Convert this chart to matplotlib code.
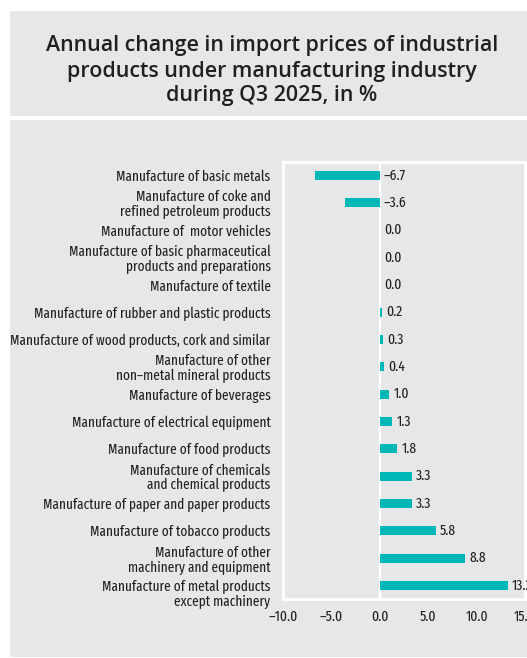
import matplotlib
matplotlib.use("Agg")
import matplotlib.pyplot as plt
from matplotlib.patches import Rectangle
from matplotlib.transforms import ScaledTranslation

categories = [
    "Manufacture of basic metals",
    "Manufacture of coke and\nrefined petroleum products",
    "Manufacture of  motor vehicles",
    "Manufacture of basic pharmaceutical\nproducts and preparations",
    "Manufacture of textile",
    "Manufacture of rubber and plastic products",
    "Manufacture of wood products, cork and similar",
    "Manufacture of other\nnon\u2013metal mineral products",
    "Manufacture of beverages",
    "Manufacture of electrical equipment",
    "Manufacture of food products",
    "Manufacture of chemicals\nand chemical products",
    "Manufacture of paper and paper products",
    "Manufacture of tobacco products",
    "Manufacture of other\nmachinery and equipment",
    "Manufacture of metal products\nexcept machinery",
]
values = [-6.7, -3.6, 0.0, 0.0, 0.0, 0.2, 0.3, 0.4, 1.0, 1.3, 1.8, 3.3, 3.3, 5.8, 8.8, 13.2]
x_ticks = [-10, -5, 0, 5, 10, 15]

title_lines = ["Annual change in import prices of industrial",
               "products under manufacturing industry",
               "during Q3 2025, in %"]

TITLE_FONT = "Open Sans"
BODY_FONT = "Fira Sans Extra Condensed"

PANEL = "#e6e7e8"
BAR = "#00b7b7"
TEXT = "#231f20"

W, H = 527, 658
fig = plt.figure(figsize=(W / 100, H / 100), dpi=100, facecolor="white")
renderer = fig.canvas.get_renderer()


def fit_size(text, target_px, start, **kw):
    """Font size at which `text` is `target_px` pixels wide."""
    t = fig.text(0, 0, text, fontsize=start, **kw)
    w = t.get_window_extent(renderer).width
    t.remove()
    return start * target_px / w


# grey panels behind the title and the chart
fig.patches.append(Rectangle((10 / W, 1 - 116 / H), 517 / W, 105 / H,
                             transform=fig.transFigure, facecolor=PANEL,
                             edgecolor="none", zorder=0))
fig.patches.append(Rectangle((10 / W, 1 - 657 / H), 517 / W, 537 / H,
                             transform=fig.transFigure, facecolor=PANEL,
                             edgecolor="none", zorder=0))

title_size = fit_size(title_lines[0], 455, 15, family=TITLE_FONT, fontweight="semibold")
for i, line in enumerate(title_lines):
    fig.text(272 / W, 1 - (46 + 25 * i) / H, line, ha="center", va="center",
             fontsize=title_size, fontweight="semibold", family=TITLE_FONT,
             color=TEXT)

label_size = fit_size("Manufacture of wood products, cork and similar", 261, 10,
                      family=BODY_FONT)
tick_size = fit_size("\u201310.0", 29, 10, family=BODY_FONT)

ax = fig.add_axes([283 / W, 1 - 599 / H, 242 / W, 437 / H])
ax.set_zorder(3)
ax.set_facecolor(PANEL)
for s in ax.spines.values():
    s.set_color("white")
    s.set_linewidth(2)

ypos = list(range(len(categories)))
ax.barh(ypos, values, height=0.33, color=BAR, zorder=2)
ax.axvline(0, color="white", linewidth=1.6, zorder=1)

for y, v in zip(ypos, values):
    label = f"{v:.1f}".replace("-", "\u2013")
    ax.annotate(label, (max(v, 0), y), xytext=(3, 0), textcoords="offset points",
                ha="left", va="center", fontsize=tick_size, family=BODY_FONT,
                color=TEXT, annotation_clip=False)

ax.set_xlim(-10, 15)
ax.set_ylim(len(categories) - 0.5, -0.5)
ax.set_xticks(x_ticks)
ax.set_xticklabels([f"{t:.1f}".replace("-", "\u2013") for t in x_ticks],
                   family=BODY_FONT, fontsize=tick_size, color=TEXT)
ax.set_yticks(ypos)
ax.set_yticklabels(categories, family=BODY_FONT, fontsize=label_size,
                   color=TEXT, linespacing=1.05)
ax.tick_params(axis="both", length=0)
ax.tick_params(axis="y", pad=9)
ax.tick_params(axis="x", pad=8)

# the last category label sits a little lower, below its bar
last = ax.get_yticklabels()[-1]
last.set_transform(last.get_transform() + ScaledTranslation(0, -7 / 100, fig.dpi_scale_trans))

fig.savefig("out.png", dpi=100, facecolor="white")
